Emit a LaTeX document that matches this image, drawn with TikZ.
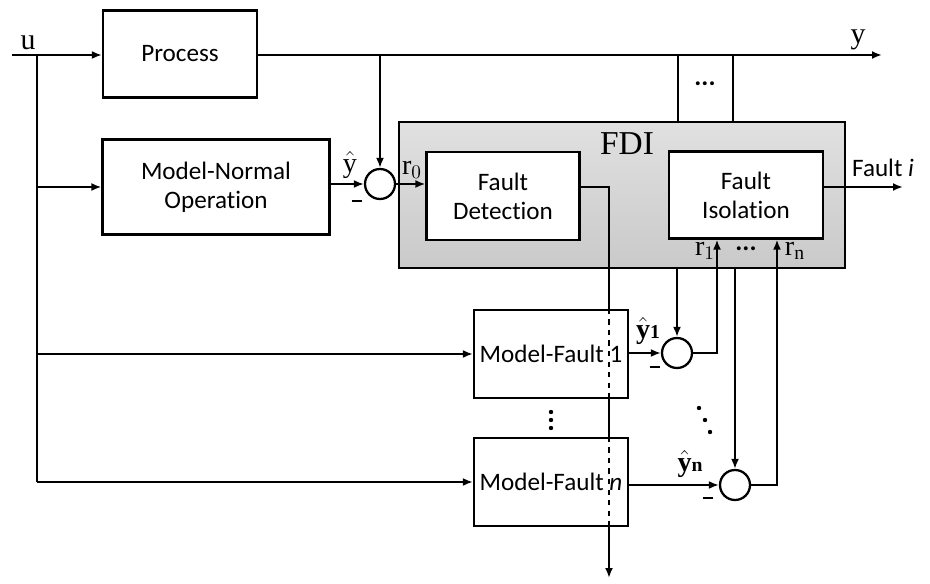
\documentclass[tikz,border=0pt]{standalone}
\usepackage{fontspec}
\setmainfont{Liberation Serif}
\newfontfamily\boxfont[Ligatures={NoCommon}]{Carlito}
\usetikzlibrary{arrows.meta, positioning, calc}
\tikzset{
  every picture/.style={line width=1.3pt},
  block/.style={draw, fill=white, align=center, inner sep=2pt, font=\boxfont\fontsize{14.3}{16.5}\selectfont},
  fdibox/.style={draw, top color=black!12, bottom color=black!21, line width=1.5pt},
  sumnode/.style={draw, circle, minimum size=0.6cm, inner sep=0pt},
  arrow/.style={-{Latex[length=2mm, width=1.6mm]}},
  sym/.style={font=\fontsize{16}{18}\selectfont, inner sep=0pt},
  minus/.style={inner sep=0pt},
  note/.style={font=\boxfont\fontsize{14.3}{16}\selectfont, inner sep=0pt},
}
\newcommand{\minussign}{\rule{6pt}{1.5pt}}
\begin{document}
\begin{tikzpicture}[x=0.02cm, y=-0.02cm]
  \useasboundingbox (0,0) rectangle (930,584);
  % blocks
  \node[fdibox, minimum width=8.92cm, minimum height=2.92cm] (fdi) at (622,195) {};
  \node[font=\fontsize{19}{20}\selectfont, inner sep=0pt] (fdilabel) at (627,144) {FDI};
  \node[block, minimum width=3.08cm, minimum height=1.74cm] (process) at (180,54) {Process};
  \node[block, minimum width=4.54cm, minimum height=1.9cm] (normal) at (216,187) {Model-Normal\\Operation};
  \node[block, minimum width=3.06cm, minimum height=1.76cm] (detect) at (503,196) {Fault\\Detection};
  \node[block, minimum width=3.08cm, minimum height=1.74cm] (isolate) at (746,195) {Fault\\Isolation};
  \node[block, minimum width=3.08cm, minimum height=1.76cm] (fault1) at (551,354) {Model-Fault 1};
  \node[block, minimum width=3.08cm, minimum height=1.76cm] (faultn) at (551,482) {Model-Fault \textit{n}};
  \node[sumnode] (sum0) at (380,184) {};
  \node[sumnode] (sum1) at (677,353) {};
  \node[sumnode] (sumn) at (735,485) {};
  % free ends
  \coordinate (uin) at (12,55);
  \coordinate (bus) at (37,55);
  \coordinate (yout) at (882,55);
  \coordinate (fa) at (678,55);
  \coordinate (fb) at (733,55);
  \coordinate (tap) at (609,187);
  \coordinate (dout) at (609,578);
  \coordinate (fout) at (903,187);
  % input side
  \draw[arrow] (uin) -- (uin -| process.west);
  \draw (bus) -- (bus |- faultn.west);
  \draw[arrow] (bus |- normal.west) -- (normal.west);
  \draw[arrow] (bus |- fault1.west) -- (fault1.west);
  \draw[arrow] (bus |- faultn.west) -- (faultn.west);
  % output y
  \draw[arrow] (uin -| process.east) -- (yout);
  \draw[arrow] (sum0 |- yout) -- (sum0.north);
  \draw (fa) -- (fa |- fdi.north);
  \draw (fb) -- (fb |- fdi.north);
  \draw[arrow] (normal.east |- sum0) -- (sum0.west);
  \draw[arrow] (sum0.east) -- (sum0.east -| detect.west);
  % detection output
  \draw (detect.east |- tap) -- (tap) -- (tap |- fault1.north);
  \draw[dashed] (tap |- fault1.north) -- (tap |- fault1.south);
  \draw (tap |- fault1.south) -- (tap |- faultn.north);
  \draw[dashed] (tap |- faultn.north) -- (tap |- faultn.south);
  \draw[arrow] (tap |- faultn.south) -- (dout);
  \draw[arrow] (isolate.east |- fout) -- (fout);
  % residuals
  \draw[arrow] (fault1.east |- sum1) -- (sum1.west);
  \draw[arrow] (faultn.east |- sumn) -- (sumn.west);
  \draw[arrow] (sum1 |- fdi.south) -- (sum1.north);
  \draw[arrow] (sumn |- fdi.south) -- (sumn.north);
  \draw[arrow] (sum1.east) -| ([xshift=-0.58cm]isolate.south);
  \draw[arrow] (sumn.east) -| ([xshift=0.62cm]isolate.south);
  % labels
  \node[sym, font=\fontsize{17}{18}\selectfont] (ulabel) at (28,43) {u};
  \node[sym, font=\fontsize{17}{18}\selectfont] (ylabel) at (858,40) {y};
  \node[sym] (r0label) at (412,170) {$\mathrm{r}_0$};
  \node[sym] (r1label) at (705,251) {$\mathrm{r}_1$};
  \node[sym] (rnlabel) at (795,251) {$\mathrm{r}_\mathrm{n}$};
  \node[sym] (y0label) at (350,165) {$\hat{\mathrm{y}}$};
  \node[sym] (y1label) at (648,331) {$\hat{\mathbf{y}}{\scriptstyle\mathbf{1}}$};
  \node[sym] (ynlabel) at (690,464) {$\hat{\mathbf{y}}{\scriptstyle\mathbf{n}}$};
  \node[minus] (m0) at (357,201) {\minussign};
  \node[minus] (m1) at (655,367) {\minussign};
  \node[minus] (mn) at (708,498) {\minussign};
  \node[note] (faultlabel) at (883,168) {Fault \textit{i}};
  \node[note, font=\boxfont\bfseries\fontsize{15}{16}\selectfont] (ydots) at (705,84) {...};
  \node[note, font=\boxfont\bfseries\fontsize{15}{16}\selectfont] (rdots) at (746,249) {...};
  % vertical and diagonal dots
  \foreach \py in {412,420,428} \fill (551,\py) circle (2.2);
  \foreach \px/\py in {699/408,705/420,710/432} \fill (\px,\py) circle (2.2);
\end{tikzpicture}
\end{document}
